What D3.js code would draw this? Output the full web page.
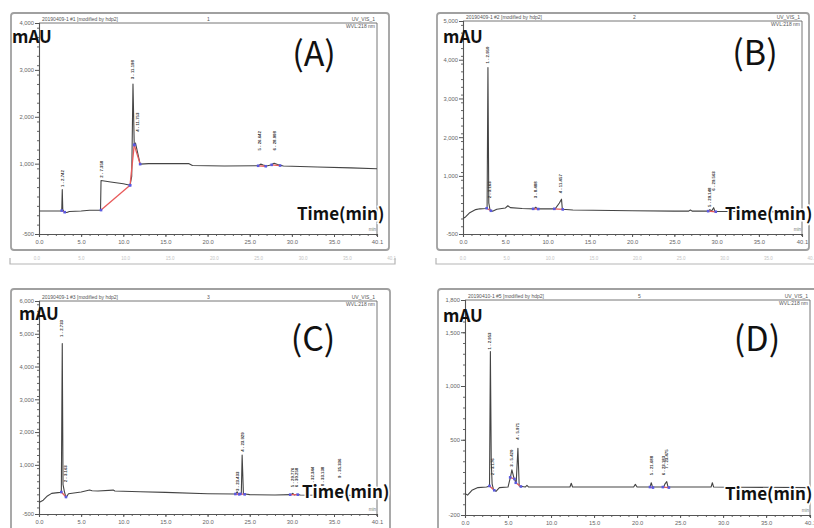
<!DOCTYPE html>
<html><head><meta charset="utf-8">
<script src="https://cdn.jsdelivr.net/npm/d3@7"></script>
<style>body{margin:0;background:#fff} svg{display:block}</style>
</head><body><svg id="c" width="814" height="528"></svg>
<script>
// ---------------- DATA ----------------
const xTickValues = [0, 5, 10, 15, 20, 25, 30, 35, 40.1];
const xTickLabels = ["0.0", "5.0", "10.0", "15.0", "20.0", "25.0", "30.0", "35.0", "40.1"];

// Panel A
const timeA = [0, 2.6, 2.7, 2.76, 2.82, 3.0, 3.3, 3.6, 5.0, 6.0, 7.3, 7.36, 8.5, 10.0, 10.8, 11.0, 11.15, 11.3, 11.45, 12.0, 13.0, 17.0, 17.8, 18.2, 22.0, 26.0, 26.3, 26.6, 27.0, 27.5, 27.9, 28.3, 29.0, 33.0, 37.0, 40.1];
const mauA  = [-10, -10, 0, 450, 20, -30, -40, -20, -10, 5, 10, 640, 610, 570, 540, 730, 2700, 1380, 1440, 990, 1000, 1005, 1000, 960, 950, 955, 990, 970, 950, 970, 1010, 980, 950, 930, 910, 890];
const yTicksA = [4000, 3000, 2000, 1000, -500];
const yLabelsA = ["4,000", "3,000", "2,000", "1,000", "-500"];
const peakNamesA = ["1 - 2.742", "2 - 7.358", "3 - 11.198", "4 - 11.753", "5 - 26.642", "6 - 28.008"];
const peakTimesA = [2.74, 7.36, 11.15, 11.65, 26.2, 27.9];
const peakLabelAtA = [500, 700, 2800, 1680, 1280, 1280];
const baseStartA = [[2.7, 0], [7.36, 10], [10.8, 540], [11.3, 1400], [26.0, 955], [27.6, 975]];
const baseEndA   = [[3.05, -35], [10.8, 540], [11.3, 1400], [12.0, 990], [26.9, 945], [28.6, 960]];

// Panel B
const timeB = [0, 0.3, 0.8, 1.5, 2.0, 2.7, 2.85, 2.95, 3.05, 3.2, 3.5, 4.0, 5.0, 5.3, 5.6, 7.0, 8.4, 8.6, 8.8, 10.9, 11.4, 11.65, 11.75, 13.0, 20.0, 25.0, 26.7, 26.9, 27.1, 29.0, 29.2, 29.4, 29.65, 29.8, 31.0, 40.1];
const mauB  = [-100, -60, 50, 130, 150, 160, 170, 3800, 300, 120, 90, 140, 170, 230, 180, 160, 150, 190, 150, 150, 300, 400, 140, 120, 100, 90, 90, 120, 90, 90, 130, 90, 180, 80, 80, 70];
const yTicksB = [5000, 4000, 3000, 2000, 1000, -500];
const yLabelsB = ["5,000", "4,000", "3,000", "2,000", "1,000", "-500"];
const peakNamesB = ["1 - 2.950", "2 - 3.163", "3 - 8.488", "4 - 11.457", "5 - 29.148", "6 - 29.563"];
const peakTimesB = [2.95, 3.15, 8.6, 11.55, 29.2, 29.65];
const peakLabelAtB = [3900, 420, 420, 550, 200, 620];
const baseStartB = [[2.8, 165], [8.3, 150], [10.8, 150], [29.0, 90]];
const baseEndB   = [[3.3, 100], [8.9, 145], [11.8, 135], [29.9, 75]];

// Panel C
const timeC = [0, 0.5, 1.0, 1.5, 2.5, 2.65, 2.76, 2.85, 3.0, 3.2, 3.5, 5.0, 6.0, 6.3, 7.0, 8.8, 9.0, 12.0, 15.0, 20.0, 23.3, 23.5, 23.7, 24.0, 24.1, 24.25, 25.0, 28.0, 29.9, 30.1, 30.3, 30.6, 31.0, 35.0, 40.1];
const mauC  = [-150, -80, 50, 130, 160, 170, 4700, 400, 200, 0, 120, 170, 230, 210, 200, 230, 200, 180, 160, 120, 110, 180, 100, 120, 1300, 120, 90, 80, 90, 130, 80, 100, 80, 70, 60];
const yTicksC = [6000, 5000, 4000, 3000, 2000, 1000, -500];
const yLabelsC = ["6,000", "5,000", "4,000", "3,000", "2,000", "1,000", "-500"];
const peakNamesC = ["1 - 2.733", "2 - 3.163", "3 - 23.433", "4 - 23.929", "5 - 29.776", "6 - 30.258", "7 - 32.344", "8 - 33.138", "9 - 35.336"];
const peakTimesC = [2.72, 3.1, 23.6, 24.1, 30.1, 30.5, 32.5, 33.6, 35.7];
const peakLabelAtC = [4900, 470, 200, 1400, 320, 320, 350, 350, 600];
const baseStartC = [[2.65, 170], [23.3, 110], [23.9, 115], [29.8, 90]];
const baseEndC   = [[3.2, 20], [23.75, 100], [24.4, 100], [30.7, 90]];

// Panel D
const timeD = [0, 0.3, 0.8, 1.5, 2.5, 2.85, 2.95, 3.05, 3.15, 3.3, 3.6, 4.0, 5.0, 5.3, 5.45, 5.7, 5.95, 6.15, 6.3, 7.0, 7.2, 7.4, 12.2, 12.35, 12.5, 19.6, 19.8, 20.0, 21.5, 21.65, 21.8, 23.1, 23.25, 23.45, 23.6, 28.6, 28.75, 28.9, 40.1];
const mauD  = [0, -15, 30, 55, 60, 70, 1320, 300, 90, 40, 20, 55, 60, 160, 220, 140, 100, 420, 70, 60, 75, 60, 60, 95, 60, 60, 85, 60, 60, 100, 60, 60, 90, 110, 60, 60, 100, 60, 55];
const yTicksD = [1800, 1500, 1000, 500, -200];
const yLabelsD = ["1,800", "1,500", "1,000", "500", "-200"];
const peakNamesD = ["1 - 2.953", "2 - 3.176", "3 - 5.420", "4 - 5.971", "5 - 21.688", "6 - 23.183", "7 - 23.475"];
const peakTimesD = [2.9, 3.15, 5.45, 6.15, 21.65, 23.1, 23.45];
const peakLabelAtD = [1340, 170, 250, 500, 170, 170, 230];
const baseStartD = [[2.85, 70], [5.25, 150], [5.9, 100], [21.5, 60], [23.0, 60]];
const baseEndD   = [[3.4, 30], [5.75, 135], [6.5, 65], [21.85, 55], [23.7, 55]];

// ---------------- LAYOUT ----------------
const panels = [
  {label: "(A)", header: "20190409-1 #1 [modified by hdp2]", inj: "1", time: timeA, mau: mauA,
   yTicks: yTicksA, yLabels: yLabelsA, minor: 200, dom: [-500, 4000],
   names: peakNamesA, pt: peakTimesA, pl: peakLabelAtA, bs: baseStartA, be: baseEndA,
   frame: [11, 13, 378, 237], x0: 39, x1: 377, yt: 23, yb: 234,
   big: [314, 66], mauPos: [12, 43], timePos: [297, 220], injX: 207, bracket: true},
  {label: "(B)", header: "20190409-1 #2 [modified by hdp2]", inj: "2", time: timeB, mau: mauB,
   yTicks: yTicksB, yLabels: yLabelsB, minor: 200, dom: [-500, 5000],
   names: peakNamesB, pt: peakTimesB, pl: peakLabelAtB, bs: baseStartB, be: baseEndB,
   frame: [437, 13, 372, 237], x0: 463, x1: 802, yt: 21, yb: 234,
   big: [755, 65], mauPos: [443, 43], timePos: [725, 220], injX: 633, bracket: true},
  {label: "(C)", header: "20190409-1 #3 [modified by hdp2]", inj: "3", time: timeC, mau: mauC,
   yTicks: yTicksC, yLabels: yLabelsC, minor: 200, dom: [-500, 6000],
   names: peakNamesC, pt: peakTimesC, pl: peakLabelAtC, bs: baseStartC, be: baseEndC,
   frame: [11, 289, 379, 260], x0: 39, x1: 377, yt: 301, yb: 514,
   big: [313, 351], mauPos: [19, 320], timePos: [302, 498], injX: 207, bracket: false},
  {label: "(D)", header: "20190410-1 #5 [modified by hdp2]", inj: "5", time: timeD, mau: mauD,
   yTicks: yTicksD, yLabels: yLabelsD, minor: 100, dom: [-200, 1800],
   names: peakNamesD, pt: peakTimesD, pl: peakLabelAtD, bs: baseStartD, be: baseEndD,
   frame: [438, 289, 390, 260], x0: 465, x1: 810, yt: 300, yb: 515,
   big: [757, 351], mauPos: [443, 322], timePos: [725, 500], injX: 638, bracket: false}
];

const svg = d3.select("#c");
const KR = "'Noto Sans CJK KR','Noto Sans',sans-serif";
const SM = "'Liberation Sans','DejaVu Sans',sans-serif";

panels.forEach(p => {
  const g = svg.append("g");
  const [fx, fy, fw, fh] = p.frame;
  g.append("rect").attr("x", fx).attr("y", fy).attr("width", fw).attr("height", fh)
    .attr("rx", 3).attr("fill", "none").attr("stroke", "#a0a0a0").attr("stroke-width", 1.8);

  if (p.bracket) {
    const by = 264;
    g.append("path").attr("d", `M${fx - 1},${by - 6}V${by}H${fx + fw + 6}V${by - 6}`)
      .attr("fill", "none").attr("stroke", "#b5b5b5").attr("stroke-width", 1.2);
    xTickValues.forEach((d, i) => {
      g.append("text").attr("x", fx + 26 + i * ((fw - 10) / 8.3)).attr("y", by - 4)
        .attr("font-family", SM).attr("font-size", 4.5).attr("fill", "#c4c4c4")
        .attr("text-anchor", "middle").text(xTickLabels[i]);
    });
  }

  const x = d3.scaleLinear().domain([0, 40.1]).range([p.x0, p.x1]);
  const y = d3.scaleLinear().domain(p.dom).range([p.yb, p.yt]);

  // plot box (top header line + right border)
  g.append("path").attr("d", `M${p.x0},${p.yt}H${p.x1}V${p.yb}`)
    .attr("fill", "none").attr("stroke", "#666").attr("stroke-width", 0.9);

  // minor ticks
  const yMinor = d3.range(p.dom[0], p.dom[1] + 1, p.minor);
  g.append("g").attr("transform", `translate(${p.x0},0)`)
    .call(d3.axisLeft(y).tickValues(yMinor).tickSize(2).tickFormat(""))
    .call(a => a.select(".domain").remove())
    .selectAll("line").attr("stroke", "#666");
  g.append("g").attr("transform", `translate(0,${p.yb})`)
    .call(d3.axisBottom(x).tickValues(d3.range(0, 41, 1)).tickSize(2).tickFormat(""))
    .call(a => a.select(".domain").remove())
    .selectAll("line").attr("stroke", "#666");

  // major axes
  const ya = g.append("g").attr("transform", `translate(${p.x0},0)`)
    .call(d3.axisLeft(y).tickValues(p.yTicks).tickSize(4).tickPadding(1)
      .tickFormat((d, i) => p.yLabels[i]));
  ya.select(".domain").attr("stroke", "#555").attr("stroke-width", 1.1);
  ya.selectAll("line").attr("stroke", "#555");
  ya.selectAll("text").attr("font-family", SM).attr("font-size", 5.8).attr("fill", "#666");

  const xa = g.append("g").attr("transform", `translate(0,${p.yb})`)
    .call(d3.axisBottom(x).tickValues(xTickValues).tickSize(3).tickPadding(2.5)
      .tickFormat((d, i) => xTickLabels[i]));
  xa.select(".domain").attr("stroke", "#555").attr("stroke-width", 1.1);
  xa.selectAll("line").attr("stroke", "#555");
  xa.selectAll("text").attr("font-family", SM).attr("font-size", 5.8).attr("fill", "#666");

  g.append("text").attr("x", p.x1 - 1).attr("y", p.yb - 3).attr("text-anchor", "end")
    .attr("font-family", SM).attr("font-size", 4.5).attr("fill", "#777").text("min");

  // header texts
  g.append("text").attr("x", p.x0 + 3).attr("y", p.yt - 2).attr("font-family", SM)
    .attr("font-size", 5).attr("fill", "#555").text(p.header);
  g.append("text").attr("x", p.injX).attr("y", p.yt - 2).attr("font-family", SM)
    .attr("font-size", 5).attr("fill", "#555").text(p.inj);
  g.append("text").attr("x", p.x1 - 2).attr("y", p.yt - 2).attr("text-anchor", "end")
    .attr("font-family", SM).attr("font-size", 5).attr("fill", "#555").text("UV_VIS_1");
  g.append("text").attr("x", p.x1 - 2).attr("y", p.yt + 5).attr("text-anchor", "end")
    .attr("font-family", SM).attr("font-size", 5).attr("fill", "#555").text("WVL:218 nm");

  // trace
  const pts = p.time.map((t, i) => [t, p.mau[i]]);
  g.append("path").datum(pts)
    .attr("d", d3.line().x(d => x(d[0])).y(d => y(d[1])))
    .attr("fill", "none").attr("stroke", "#444").attr("stroke-width", 1.1)
    .attr("stroke-linejoin", "round");

  // integration baselines
  p.bs.forEach((s, i) => {
    const e = p.be[i];
    g.append("line").attr("x1", x(s[0])).attr("y1", y(s[1])).attr("x2", x(e[0])).attr("y2", y(e[1]))
      .attr("stroke", "#e85a5a").attr("stroke-width", 1.3);
  });
  const marks = p.bs.concat(p.be);
  g.selectAll(null).data(marks).enter().append("rect")
    .attr("x", d => x(d[0]) - 1.3).attr("y", d => y(d[1]) - 1.3)
    .attr("width", 2.6).attr("height", 2.6).attr("fill", "#5a5ae0");

  // peak labels
  p.names.forEach((n, i) => {
    g.append("text")
      .attr("transform", `translate(${x(p.pt[i])},${y(p.pl[i])}) rotate(-90)`)
      .attr("dy", "0.35em").attr("font-family", SM).attr("font-size", 4.3)
      .attr("font-weight", "bold").attr("fill", "#333").text(n);
  });

  // big overlay labels
  g.append("text").attr("x", p.mauPos[0]).attr("y", p.mauPos[1]).attr("font-family", KR)
    .attr("font-weight", "bold").attr("font-size", 17).attr("fill", "#111").text("mAU");
  g.append("text").attr("x", p.timePos[0]).attr("y", p.timePos[1]).attr("font-family", KR)
    .attr("font-weight", "bold").attr("font-size", 17).attr("fill", "#111")
    .attr("stroke", "#fff").attr("stroke-width", 3).attr("paint-order", "stroke")
    .text("Time(min)");
  g.append("text").attr("x", p.big[0]).attr("y", p.big[1]).attr("text-anchor", "middle")
    .attr("font-family", KR).attr("font-size", 34).attr("fill", "#111").text(p.label);
});
</script>
</body></html>
